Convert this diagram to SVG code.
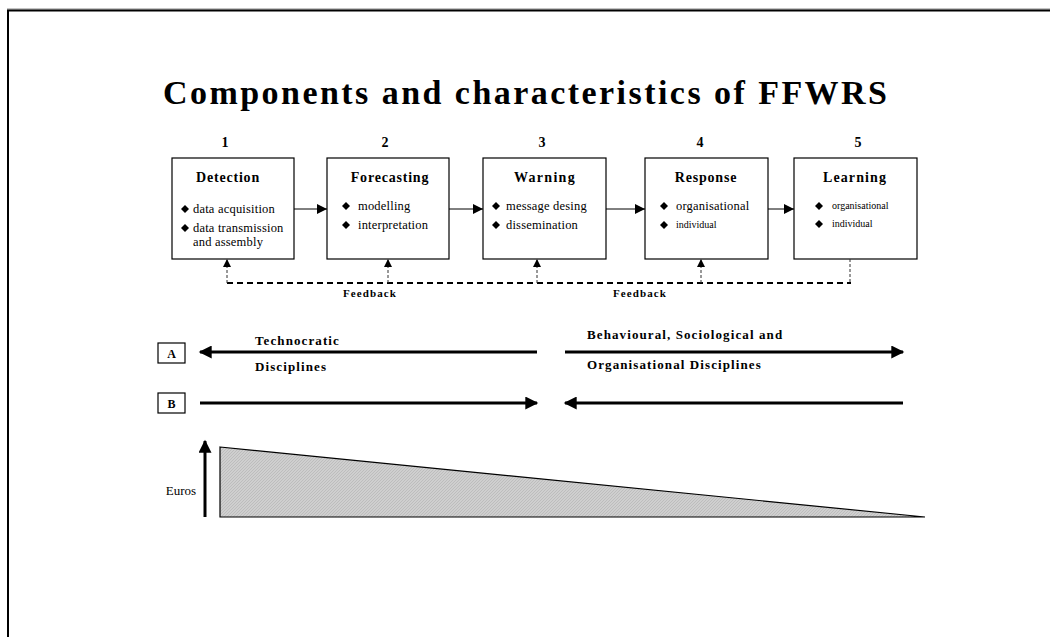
<svg xmlns="http://www.w3.org/2000/svg" width="1050" height="637" viewBox="0 0 1050 637">
<defs>
<style>
.t{font-family:"Liberation Serif","Times New Roman",serif;fill:#000}
.b{font-weight:bold}
.ls{letter-spacing:1.1px}
.hd{letter-spacing:0.8px}
.box{fill:#fff;stroke:#000;stroke-width:1.2}
.flow{stroke:#000;stroke-width:1;fill:none}
.thick{stroke:#000;stroke-width:3;fill:none}
.fb{stroke:#000;stroke-width:2;stroke-dasharray:6,4;fill:none}
.fbv{stroke:#333;stroke-width:1;stroke-dasharray:3,2;fill:none}
</style>
<marker id="ah" viewBox="0 0 10 10" refX="10" refY="5" markerWidth="10" markerHeight="10" markerUnits="userSpaceOnUse" orient="auto">
<path d="M0,0 L10,5 L0,10 z" fill="#000"/>
</marker>
<marker id="ahs" viewBox="0 0 10 10" refX="10" refY="5" markerWidth="8" markerHeight="8" markerUnits="userSpaceOnUse" orient="auto">
<path d="M0,0 L10,5 L0,10 z" fill="#000"/>
</marker>
<marker id="ahb" viewBox="0 0 10 10" refX="9" refY="5" markerWidth="16" markerHeight="13" markerUnits="userSpaceOnUse" orient="auto">
<path d="M0,0 L10,5 L0,10 z" fill="#000"/>
</marker>
<pattern id="hatch" width="3" height="3" patternUnits="userSpaceOnUse">
<rect width="3" height="3" fill="#cfcfcf"/>
<path d="M0,3 L3,0" stroke="#b4b4b4" stroke-width="0.7"/>
</pattern>
<path id="d" d="M0,-4 L4,0 L0,4 L-4,0 z"/>
</defs>
<rect width="1050" height="637" fill="#fff"/>
<g id="frame">
<line x1="7" y1="9" x2="1050" y2="9" stroke="#888" stroke-width="1"/>
<line x1="7" y1="10.5" x2="1050" y2="10.5" stroke="#000" stroke-width="2"/>
<line x1="8" y1="10" x2="8" y2="637" stroke="#000" stroke-width="2"/>
</g>
<text id="title" class="t b" x="163" y="104" font-size="34" textLength="724" lengthAdjust="spacing">Components and characteristics of FFWRS</text>

<g id="node1">
<text class="t b" x="225" y="147" font-size="14" text-anchor="middle">1</text>
<rect class="box" x="172" y="158" width="122" height="101"/>
<text class="t b hd" x="228" y="182" font-size="14" text-anchor="middle">Detection</text>
<use href="#d" x="185" y="209"/>
<text class="t" x="193" y="213" font-size="12.5" letter-spacing="0.2">data acquisition</text>
<use href="#d" x="185" y="228"/>
<text class="t" x="193" y="232" font-size="12.5" letter-spacing="0.2">data transmission</text>
<text class="t" x="193" y="246" font-size="12.5" letter-spacing="0.2">and assembly</text>
</g>
<g id="node2">
<text class="t b" x="385" y="147" font-size="14" text-anchor="middle">2</text>
<rect class="box" x="327" y="158" width="122" height="101"/>
<text class="t b hd" x="390" y="182" font-size="14" text-anchor="middle">Forecasting</text>
<use href="#d" x="346" y="206"/>
<text class="t" x="358" y="210" font-size="12.5" letter-spacing="0.2">modelling</text>
<use href="#d" x="346" y="225"/>
<text class="t" x="358" y="229" font-size="12.5" letter-spacing="0.2">interpretation</text>
</g>
<g id="node3">
<text class="t b" x="542" y="147" font-size="14" text-anchor="middle">3</text>
<rect class="box" x="483" y="158" width="123" height="101"/>
<text class="t b" x="545" y="182" font-size="14" text-anchor="middle" letter-spacing="1.3">Warning</text>
<use href="#d" x="496" y="206"/>
<text class="t" x="506" y="210" font-size="12.5" letter-spacing="0.2">message desing</text>
<use href="#d" x="496" y="225"/>
<text class="t" x="506" y="229" font-size="12.5" letter-spacing="0.2">dissemination</text>
</g>
<g id="node4">
<text class="t b" x="700" y="147" font-size="14" text-anchor="middle">4</text>
<rect class="box" x="645" y="158" width="123" height="101"/>
<text class="t b hd" x="706" y="182" font-size="14" text-anchor="middle">Response</text>
<use href="#d" x="664" y="206"/>
<text class="t" x="676" y="210" font-size="12.5" letter-spacing="0.2">organisational</text>
<use href="#d" x="664" y="225"/>
<text class="t" x="676" y="228" font-size="10">individual</text>
</g>
<g id="node5">
<text class="t b" x="858" y="147" font-size="14" text-anchor="middle">5</text>
<rect class="box" x="794" y="158" width="123" height="101"/>
<text class="t b" x="855" y="182" font-size="14" text-anchor="middle" letter-spacing="1.1">Learning</text>
<use href="#d" x="819" y="206"/>
<text class="t" x="832" y="209" font-size="10">organisational</text>
<use href="#d" x="819" y="224"/>
<text class="t" x="832" y="227" font-size="10">individual</text>
</g>

<g id="connectors">
<line class="flow" x1="294" y1="209" x2="327" y2="209" marker-end="url(#ah)"/>
<line class="flow" x1="449" y1="209" x2="483" y2="209" marker-end="url(#ah)"/>
<line class="flow" x1="606" y1="209" x2="645" y2="209" marker-end="url(#ah)"/>
<line class="flow" x1="768" y1="209" x2="794" y2="209" marker-end="url(#ah)"/>
<polyline class="fb" points="227,283 851,283"/>
<line class="fbv" x1="227" y1="283" x2="227" y2="259" marker-end="url(#ahs)"/>
<line class="fbv" x1="388" y1="283" x2="388" y2="259" marker-end="url(#ahs)"/>
<line class="fbv" x1="537" y1="283" x2="537" y2="259" marker-end="url(#ahs)"/>
<line class="fbv" x1="701" y1="283" x2="701" y2="259" marker-end="url(#ahs)"/>
<line class="fbv" x1="850" y1="259" x2="850" y2="283"/>
</g>
<text class="t b ls" x="370" y="297" font-size="11" text-anchor="middle">Feedback</text>
<text class="t b ls" x="640" y="297" font-size="11" text-anchor="middle">Feedback</text>

<g id="rowA">
<rect class="box" x="158" y="343" width="27" height="20"/>
<text class="t b" x="171.5" y="358" font-size="12" text-anchor="middle">A</text>
<line class="thick" x1="537" y1="352" x2="200" y2="352" marker-end="url(#ahb)"/>
<line class="thick" x1="565" y1="352" x2="903" y2="352" marker-end="url(#ahb)"/>
<text class="t b ls" x="255" y="345" font-size="13">Technocratic</text>
<text class="t b ls" x="255" y="371" font-size="13">Disciplines</text>
<text class="t b ls" x="587" y="339" font-size="13">Behavioural, Sociological and</text>
<text class="t b ls" x="587" y="369" font-size="13">Organisational Disciplines</text>
</g>
<g id="rowB">
<rect class="box" x="158" y="393" width="27" height="20"/>
<text class="t b" x="171.5" y="408" font-size="12" text-anchor="middle">B</text>
<line class="thick" x1="200" y1="403" x2="537" y2="403" marker-end="url(#ahb)"/>
<line class="thick" x1="903" y1="403" x2="565" y2="403" marker-end="url(#ahb)"/>
</g>

<g id="cost">
<text class="t" x="181" y="495" font-size="13" text-anchor="middle">Euros</text>
<line class="thick" x1="205" y1="517" x2="205" y2="441" marker-end="url(#ahb)"/>
<polygon points="220,447 925,517 220,517" fill="url(#hatch)" stroke="#000" stroke-width="1.2"/>
</g>
</svg>
